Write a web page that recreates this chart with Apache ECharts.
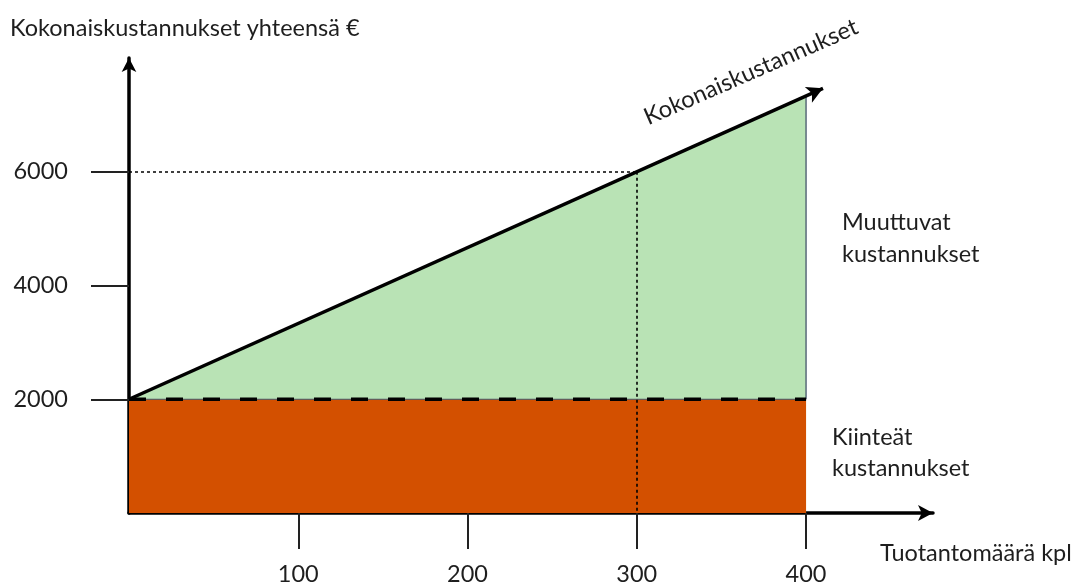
<!DOCTYPE html>
<html>
<head>
<meta charset="utf-8">
<script src="https://cdn.jsdelivr.net/npm/echarts@6/dist/echarts.min.js"></script>
<style>html,body{margin:0;padding:0;background:#fff;}#c{width:1084px;height:586px;}</style>
</head>
<body>
<div id="c"></div>
<script>
// Data
const quantities = [0, 300, 400];           // tuotantomäärä kpl
const totalCosts = [2000, 6000, 7333];      // kokonaiskustannukset €
const fixedCost = 2000;                     // kiinteät kustannukset €
const readPoint = [300, 6000];              // dotted read-off point
const arrowTip = [410, 7467];               // end of the total-cost arrow
const xTicks = [100, 200, 300, 400];
const yTicks = [2000, 4000, 6000];
const xMax = 475, yMax = 8000;

const FONT = 'Lato';
const FS = 23.5;
const TXT = '#1e1e1e';

const totalData = quantities.map((q, i) => [q, totalCosts[i]]);
const variableArea = totalData.concat([[quantities[quantities.length - 1], fixedCost]]);
const fixedData = [[quantities[0], fixedCost], [quantities[quantities.length - 1], fixedCost]];

const chart = echarts.init(document.getElementById('c'));
chart.setOption({
  animation: false,
  backgroundColor: '#fff',
  grid: { left: 129, right: 151, top: 58, bottom: 72 },
  xAxis: {
    type: 'value', min: 0, max: xMax,
    axisLine: { show: true, onZero: false, symbol: ['none', 'arrow'], symbolSize: [12, 15],
      lineStyle: { color: '#000', width: 3.5 } },
    axisTick: { show: true, customValues: xTicks, length: 36, lineStyle: { color: '#222', width: 2 } },
    axisLabel: { customValues: xTicks, margin: 49, fontFamily: FONT, fontSize: FS, color: TXT,
      formatter: v => String(v) },
    splitLine: { show: false }
  },
  yAxis: {
    type: 'value', min: 0, max: yMax,
    axisLine: { show: true, onZero: false, symbol: ['none', 'arrow'], symbolSize: [11, 14],
      lineStyle: { color: '#000', width: 3.5 } },
    axisTick: { show: true, customValues: yTicks, length: 38, lineStyle: { color: '#222', width: 2 } },
    axisLabel: { customValues: yTicks, margin: 61, fontFamily: FONT, fontSize: FS, color: TXT,
      formatter: v => String(v) },
    splitLine: { show: false }
  },
  series: [
    {
      name: 'Muuttuvat kustannukset', type: 'line', data: variableArea, symbol: 'none', z: 1,
      lineStyle: { color: '#44546A', width: 1.3 },
      areaStyle: { color: '#B9E3B5', opacity: 1 }
    },
    {
      name: 'Kiinteät kustannukset', type: 'line', data: fixedData, symbol: 'none', z: 2,
      lineStyle: { color: '#44546A', width: 1 },
      areaStyle: { color: '#D35000', opacity: 1 }
    },
    {
      name: 'fixed-dash', type: 'line', data: fixedData, symbol: 'none', z: 3,
      lineStyle: { color: '#000', width: 3.5, type: [17, 20] }
    },
    {
      name: 'Kokonaiskustannukset', type: 'line', data: [], z: 4,
      markLine: {
        silent: true, animation: false,
        symbol: ['none', 'none'],
        label: { show: false },
        lineStyle: { color: '#000', width: 1.6, type: [3, 3] },
        data: [
          [{ coord: [0, readPoint[1]] }, { coord: readPoint }],
          [{ coord: readPoint }, { coord: [readPoint[0], 0] }]
        ]
      }
    },
    {
      name: 'total-arrow', type: 'line', data: [], z: 5,
      markLine: {
        silent: true, animation: false,
        symbol: ['none', 'arrow'], symbolSize: [13, 16],
        label: { show: false },
        lineStyle: { color: '#000', width: 3.5, type: 'solid' },
        data: [[{ coord: totalData[0] }, { coord: arrowTip }]]
      }
    }
  ],
  graphic: [
    { type: 'text', x: 10, y: 28, style: { text: 'Kokonaiskustannukset yhteensä €', fontFamily: FONT, fontSize: FS, fill: TXT, verticalAlign: 'middle' } },
    { type: 'text', x: 751, y: 72, rotation: 0.412, style: { text: 'Kokonaiskustannukset', fontFamily: FONT, fontSize: FS, fill: TXT, align: 'center', verticalAlign: 'middle' } },
    { type: 'text', x: 842, y: 222, style: { text: 'Muuttuvat', fontFamily: FONT, fontSize: FS, fill: TXT, verticalAlign: 'middle' } },
    { type: 'text', x: 842, y: 254, style: { text: 'kustannukset', fontFamily: FONT, fontSize: FS, fill: TXT, verticalAlign: 'middle' } },
    { type: 'text', x: 832, y: 437, style: { text: 'Kiinteät', fontFamily: FONT, fontSize: FS, fill: TXT, verticalAlign: 'middle' } },
    { type: 'text', x: 832, y: 468, style: { text: 'kustannukset', fontFamily: FONT, fontSize: FS, fill: TXT, verticalAlign: 'middle' } },
    { type: 'text', x: 880, y: 553, style: { text: 'Tuotantomäärä kpl', fontFamily: FONT, fontSize: FS, fill: TXT, verticalAlign: 'middle' } }
  ]
});
</script>
</body>
</html>
